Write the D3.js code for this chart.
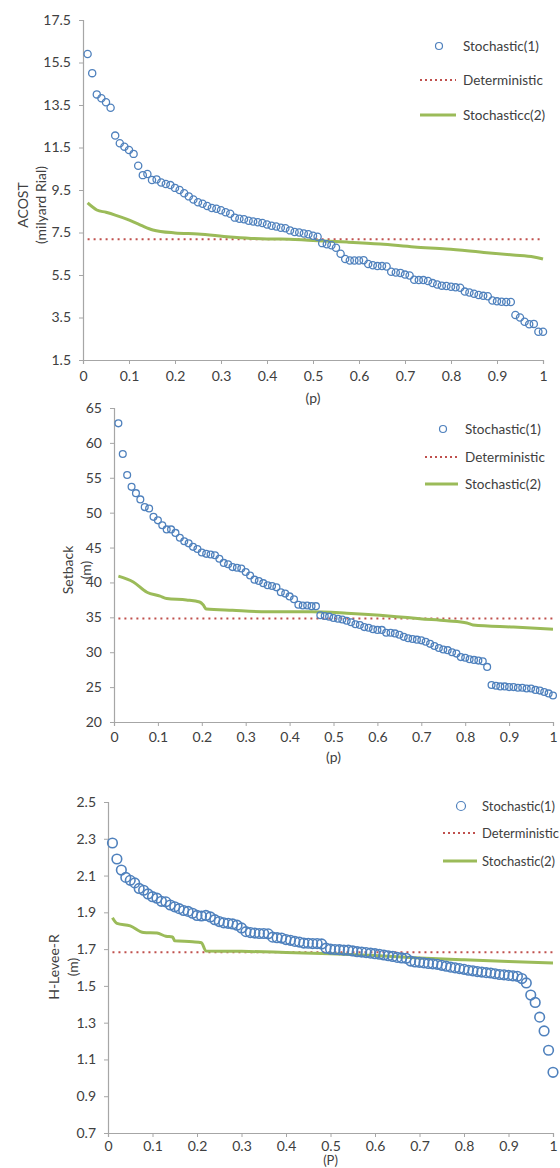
<!DOCTYPE html>
<html><head><meta charset="utf-8">
<script src="https://cdn.jsdelivr.net/npm/d3@7"></script>
<style>
html,body{margin:0;padding:0;background:#fff;}
svg text{font-family:Lato,"Open Sans",sans-serif;fill:#404040;}
</style></head>
<body>
<svg id="c" width="560" height="1168"></svg>
<script>
// ---------- DATA ----------
const pValues = d3.range(1, 101).map(i => i / 100);
const xTicks = [0, 0.1, 0.2, 0.3, 0.4, 0.5, 0.6, 0.7, 0.8, 0.9, 1];
const xTickLabels = ["0","0.1","0.2","0.3","0.4","0.5","0.6","0.7","0.8","0.9","1"];

// Chart 1: ACOST
const acostTicks = [1.5, 3.5, 5.5, 7.5, 9.5, 11.5, 13.5, 15.5, 17.5];
const acostStoch1 = [15.9,15.0,14.0,13.82,13.63,13.37,12.06,11.7,11.54,11.38,
  11.2,10.64,10.2,10.25,9.97,10.0,9.85,9.78,9.73,9.6,
  9.5,9.35,9.2,9.05,8.92,8.85,8.75,8.65,8.62,8.55,
  8.45,8.38,8.2,8.15,8.12,8.05,8.02,7.98,7.95,7.88,
  7.82,7.78,7.72,7.7,7.6,7.52,7.5,7.45,7.42,7.35,
  7.3,7.0,6.95,6.9,6.78,6.5,6.25,6.18,6.18,6.18,
  6.2,6.02,5.96,5.92,5.92,5.9,5.65,5.62,5.6,5.52,
  5.48,5.28,5.26,5.26,5.22,5.12,5.05,5.0,4.98,4.95,
  4.92,4.9,4.72,4.68,4.62,4.56,4.52,4.5,4.3,4.26,
  4.24,4.23,4.23,3.62,3.5,3.3,3.18,3.2,2.83,2.83];
const acostDet = 7.18;
const acostStoch2P = [0.01,0.03,0.05,0.07,0.095,0.125,0.152,0.2,0.25,0.32,0.4,0.43,0.5,0.574,0.646,0.72,0.79,0.863,0.935,0.98,1.0];
const acostStoch2 = [8.89,8.56,8.45,8.32,8.13,7.85,7.62,7.48,7.43,7.29,7.2,7.2,7.12,7.05,6.96,6.82,6.72,6.58,6.44,6.35,6.25];

// Chart 2: Setback
const setbackTicks = [20, 25, 30, 35, 40, 45, 50, 55, 60, 65];
const setbackStoch1 = [62.8,58.4,55.4,53.7,52.8,51.9,50.8,50.6,49.4,48.9,
  48.2,47.6,47.6,47.1,46.4,45.9,45.6,45.1,44.8,44.3,
  44.1,44.0,43.9,43.4,42.8,42.6,42.2,42.1,42.0,41.5,
  41.0,40.4,40.2,39.9,39.6,39.5,39.3,38.6,38.4,38.0,
  37.6,36.8,36.7,36.7,36.6,36.6,35.3,35.2,35.1,34.9,
  34.8,34.7,34.5,34.3,34.0,33.9,33.6,33.5,33.3,33.2,
  33.2,32.8,32.8,32.7,32.5,32.2,32.0,31.9,31.8,31.7,
  31.5,31.2,30.9,30.6,30.4,30.3,30.0,29.8,29.3,29.2,
  29.0,28.9,28.8,28.7,27.9,25.3,25.2,25.1,25.1,25.0,
  25.0,24.9,24.9,24.8,24.8,24.6,24.5,24.3,24.1,23.8];
const setbackDet = 34.85;
const setbackStoch2P = [0.01,0.044,0.075,0.105,0.12,0.165,0.195,0.203,0.21,0.27,0.35,0.45,0.53,0.606,0.644,0.697,0.758,0.804,0.818,0.91,1.0];
const setbackStoch2 = [40.9,40.06,38.6,38.05,37.7,37.5,37.2,36.8,36.2,36.0,35.8,35.8,35.6,35.3,35.1,34.8,34.5,34.2,33.9,33.6,33.3];

// Chart 3: H-Levee-R
const hleveeTicks = [0.7, 0.9, 1.1, 1.3, 1.5, 1.7, 1.9, 2.1, 2.3, 2.5];
const hleveeStoch1 = [2.277,2.19,2.13,2.09,2.074,2.06,2.03,2.02,2.0,1.985,
  1.977,1.96,1.957,1.94,1.93,1.92,1.91,1.905,1.895,1.883,
  1.88,1.883,1.875,1.86,1.85,1.843,1.84,1.837,1.83,1.815,
  1.795,1.79,1.787,1.785,1.785,1.783,1.765,1.762,1.76,1.752,
  1.748,1.742,1.738,1.733,1.732,1.73,1.73,1.728,1.705,1.7,
  1.698,1.697,1.695,1.694,1.69,1.686,1.684,1.681,1.678,1.675,
  1.672,1.668,1.664,1.66,1.655,1.652,1.65,1.635,1.63,1.628,
  1.625,1.622,1.62,1.617,1.612,1.607,1.602,1.598,1.594,1.59,
  1.585,1.582,1.578,1.575,1.572,1.57,1.566,1.562,1.56,1.557,
  1.555,1.552,1.54,1.516,1.45,1.41,1.33,1.255,1.15,1.03];
const hleveeDet = 1.683;
const hleveeStoch2P = [0.01,0.02,0.05,0.08,0.11,0.13,0.145,0.15,0.19,0.21,0.22,0.3,0.4,0.5,0.6,0.7,0.8,0.9,1.0];
const hleveeStoch2 = [1.87,1.84,1.826,1.79,1.787,1.77,1.766,1.745,1.74,1.735,1.69,1.688,1.682,1.675,1.665,1.652,1.642,1.633,1.625];

// ---------- DRAW ----------
const svg = d3.select("#c");
const BLUE = "#4f81bd", RED = "#c0504d", GREEN = "#9bbb59", AXIS = "#a6a6a6";

function drawChart(o) {
  const g = svg.append("g");
  const x = d3.scaleLinear().domain([0, 1]).range([o.x0, o.x1]);
  const y = d3.scaleLinear().domain([o.yTicks[0], o.yTicks[o.yTicks.length - 1]]).range([o.y0, o.y1]);

  const yAxis = d3.axisLeft(y).tickValues(o.yTicks).tickSize(4).tickPadding(8).tickFormat(d => String(d));
  const ya = g.append("g").attr("transform", `translate(${o.x0},0)`).call(yAxis);
  const xAxis = d3.axisBottom(x).tickValues(xTicks).tickSize(4).tickPadding(o.xPad).tickFormat((d, i) => xTickLabels[i]);
  const xa = g.append("g").attr("transform", `translate(0,${o.y0})`).call(xAxis);
  [ya, xa].forEach(a => {
    a.selectAll("path.domain").attr("stroke", AXIS).attr("stroke-width", 1.2);
    a.selectAll(".tick line").attr("stroke", AXIS);
    a.selectAll(".tick text").attr("font-size", 14).attr("fill", "#404040").style("font-family", "Lato, sans-serif");
  });

  // Deterministic
  g.append("line").attr("x1", x(0.01)).attr("x2", x(1)).attr("y1", y(o.det)).attr("y2", y(o.det))
    .attr("stroke", RED).attr("stroke-width", 2).attr("stroke-dasharray", "2,4");

  // Stochastic 2 line
  const line = d3.line().x(d => x(d[0])).y(d => y(d[1])).curve(d3.curveMonotoneX);
  g.append("path").datum(o.s2p.map((p, i) => [p, o.s2[i]])).attr("d", line)
    .attr("fill", "none").attr("stroke", GREEN).attr("stroke-width", 3);

  // Stochastic 1 circles
  g.append("g").selectAll("circle").data(o.s1).join("circle")
    .attr("cx", (d, i) => x(pValues[i])).attr("cy", d => y(d)).attr("r", o.r)
    .attr("fill", "none").attr("stroke", BLUE).attr("stroke-width", o.sw);

  // Titles
  o.yTitle.forEach((t, i) => {
    g.append("text").attr("transform", `translate(${o.yTitleX[i]},${o.yTitleY}) rotate(-90)`)
      .attr("text-anchor", "middle").attr("dominant-baseline", "central").attr("font-size", 14).text(t);
  });
  g.append("text").attr("x", (o.x0 + o.x1) / 2).attr("y", o.xTitleY).attr("text-anchor", "middle")
    .attr("dominant-baseline", "central").attr("font-size", o.xTitleSize).text(o.xTitle);

  // Legend
  const L = o.leg;
  g.append("circle").attr("cx", L.cx).attr("cy", L.y[0]).attr("r", o.legR).attr("fill", "none")
    .attr("stroke", BLUE).attr("stroke-width", 1.2);
  g.append("line").attr("x1", L.lx0).attr("x2", L.lx1).attr("y1", L.y[1]).attr("y2", L.y[1])
    .attr("stroke", RED).attr("stroke-width", 2).attr("stroke-dasharray", "2,3");
  g.append("line").attr("x1", L.lx0).attr("x2", L.lx1).attr("y1", L.y[2]).attr("y2", L.y[2])
    .attr("stroke", GREEN).attr("stroke-width", 3);
  o.legText.forEach((t, i) => {
    g.append("text").attr("x", L.tx).attr("y", L.y[i]).attr("dominant-baseline", "central")
      .attr("font-size", o.legSize).text(t);
  });
}

drawChart({
  x0: 83, x1: 543, y0: 360, y1: 20, yTicks: acostTicks, xPad: 7,
  s1: acostStoch1, s2p: acostStoch2P, s2: acostStoch2, det: acostDet, r: 3.6, sw: 1.3,
  yTitle: ["ACOST", "(milyard Rial)"], yTitleX: [22, 40], yTitleY: 205,
  xTitle: "(p)", xTitleY: 397, xTitleSize: 14,
  leg: { cx: 439, lx0: 420, lx1: 456, tx: 463, y: [46, 80, 115] }, legR: 3.5, legSize: 13.5,
  legText: ["Stochastic(1)", "Deterministic", "Stochasticc(2)"]
});

drawChart({
  x0: 114, x1: 553, y0: 722, y1: 408, yTicks: setbackTicks, xPad: 6,
  s1: setbackStoch1, s2p: setbackStoch2P, s2: setbackStoch2, det: setbackDet, r: 3.4, sw: 1.3,
  yTitle: ["Setback", "(m)"], yTitleX: [67, 85], yTitleY: 570,
  xTitle: "(p)", xTitleY: 756, xTitleSize: 14,
  leg: { cx: 443, lx0: 425, lx1: 458, tx: 465, y: [429, 457, 484] }, legR: 3.5, legSize: 13.5,
  legText: ["Stochastic(1)", "Deterministic", "Stochastic(2)"]
});

drawChart({
  x0: 108, x1: 553, y0: 1133, y1: 802, yTicks: hleveeTicks, xPad: 4,
  s1: hleveeStoch1, s2p: hleveeStoch2P, s2: hleveeStoch2, det: hleveeDet, r: 4.8, sw: 1.6,
  yTitle: ["H-Levee-R", "(m)"], yTitleX: [53, 72], yTitleY: 967,
  xTitle: "(P)", xTitleY: 1160, xTitleSize: 13,
  leg: { cx: 461, lx0: 443, lx1: 477, tx: 482, y: [806, 833, 861] }, legR: 4.5, legSize: 13,
  legText: ["Stochastic(1)", "Deterministic", "Stochastic(2)"]
});
</script>
</body></html>
